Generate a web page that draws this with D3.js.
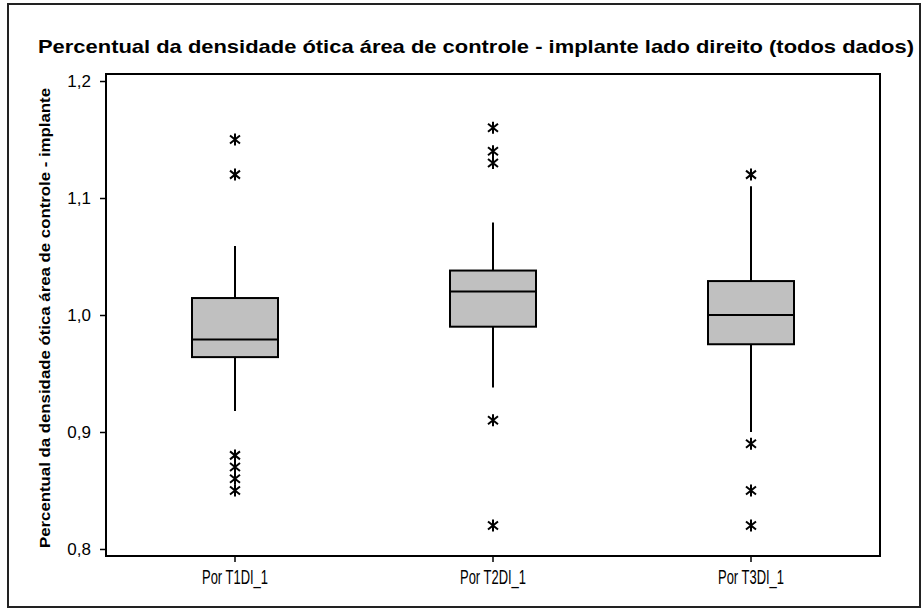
<!DOCTYPE html>
<html>
<head>
<meta charset="utf-8">
<script src="https://cdn.jsdelivr.net/npm/d3@7"></script>
<style>
  html, body { margin: 0; padding: 0; background: #fff; }
  svg { display: block; }
</style>
</head>
<body>
<svg id="chart" width="924" height="610"></svg>
<script>
// Groups on the x axis
const categories = ["Por T1DI_1", "Por T2DI_1", "Por T3DI_1"];
// Box summaries per group: lower whisker, Q1, median, Q3, upper whisker
const whiskerLow = [0.918, 0.938, 0.900];
const q1 = [0.964, 0.990, 0.975];
const median = [0.979, 1.020, 1.000];
const q3 = [1.0145, 1.038, 1.029];
const whiskerHigh = [1.059, 1.079, 1.110];
// Outlying observations per group
const outliers = [
  [1.15, 1.12, 0.88, 0.87, 0.86, 0.85],
  [1.16, 1.14, 1.13, 0.91, 0.82],
  [1.12, 0.89, 0.85, 0.82]
];
// Y axis tick values and labels
const yTicks = [0.8, 0.9, 1.0, 1.1, 1.2];
const yTickLabels = ["0,8", "0,9", "1,0", "1,1", "1,2"];

const titleText = "Percentual da densidade ótica área de controle - implante lado direito (todos dados)";
const yLabelText = "Percentual da densidade ótica área de controle - implante";

const svg = d3.select("#chart");
const plot = { left: 106, right: 880, top: 74, bottom: 556 };
const sans = "'Liberation Sans', Arial, sans-serif";

// Outer frame
svg.append("rect")
  .attr("x", 8).attr("y", 4)
  .attr("width", 912).attr("height", 603)
  .attr("fill", "#fff")
  .attr("stroke", "#222").attr("stroke-width", 2);

const x = d3.scaleBand()
  .domain(categories)
  .range([plot.left, plot.right])
  .padding(0);

const y = d3.scaleLinear()
  .domain([0.794, 1.206])
  .range([plot.bottom, plot.top]);

// Title
svg.append("text")
  .attr("x", 38).attr("y", 53)
  .attr("textLength", 876)
  .attr("lengthAdjust", "spacingAndGlyphs")
  .style("font-family", sans)
  .style("font-weight", "bold")
  .style("font-size", "19px")
  .attr("fill", "#000")
  .text(titleText);

// Y axis title
svg.append("text")
  .attr("transform", `translate(50, ${(plot.top + plot.bottom) / 2 + 3}) rotate(-90)`)
  .attr("text-anchor", "middle")
  .attr("textLength", 460)
  .attr("lengthAdjust", "spacingAndGlyphs")
  .style("font-family", sans)
  .style("font-weight", "bold")
  .style("font-size", "15px")
  .attr("fill", "#000")
  .text(yLabelText);

// Plot frame
svg.append("rect")
  .attr("x", plot.left).attr("y", plot.top)
  .attr("width", plot.right - plot.left)
  .attr("height", plot.bottom - plot.top)
  .attr("fill", "none")
  .attr("stroke", "#000").attr("stroke-width", 2);

// Y axis
const yAxis = d3.axisLeft(y)
  .tickValues(yTicks)
  .tickFormat((d, i) => yTickLabels[i])
  .tickSize(6)
  .tickPadding(9);
const gy = svg.append("g")
  .attr("transform", `translate(${plot.left},0)`)
  .call(yAxis);
gy.select(".domain").remove();
gy.selectAll(".tick line").attr("stroke", "#000").attr("stroke-width", 1.5);
gy.selectAll(".tick text")
  .style("font-family", sans)
  .style("font-size", "17px")
  .attr("fill", "#000");

// X axis
const xAxis = d3.axisBottom(x).tickSize(6).tickPadding(7);
const gx = svg.append("g")
  .attr("transform", `translate(0,${plot.bottom})`)
  .call(xAxis);
gx.select(".domain").remove();
gx.selectAll(".tick line").attr("stroke", "#000").attr("stroke-width", 1.5);
gx.selectAll(".tick text")
  .attr("textLength", 66)
  .attr("lengthAdjust", "spacingAndGlyphs")
  .style("font-family", sans)
  .style("font-size", "21px")
  .attr("fill", "#000");

// Boxes
const boxW = x.bandwidth() / 3;
const groups = svg.append("g").selectAll("g")
  .data(categories.map((c, i) => ({
    c, lo: whiskerLow[i], q1: q1[i], med: median[i], q3: q3[i], hi: whiskerHigh[i], out: outliers[i]
  })))
  .join("g")
  .attr("transform", d => `translate(${x(d.c) + x.bandwidth() / 2},0)`);

// Whiskers
groups.append("line")
  .attr("x1", 0).attr("x2", 0)
  .attr("y1", d => y(d.hi)).attr("y2", d => y(d.q3))
  .attr("stroke", "#000").attr("stroke-width", 2);
groups.append("line")
  .attr("x1", 0).attr("x2", 0)
  .attr("y1", d => y(d.q1)).attr("y2", d => y(d.lo))
  .attr("stroke", "#000").attr("stroke-width", 2);

// Interquartile box
groups.append("rect")
  .attr("x", -boxW / 2)
  .attr("width", boxW)
  .attr("y", d => y(d.q3))
  .attr("height", d => y(d.q1) - y(d.q3))
  .attr("fill", "#c0c0c0")
  .attr("stroke", "#000").attr("stroke-width", 2);

// Median
groups.append("line")
  .attr("x1", -boxW / 2).attr("x2", boxW / 2)
  .attr("y1", d => y(d.med)).attr("y2", d => y(d.med))
  .attr("stroke", "#000").attr("stroke-width", 2);

// Outlier asterisks
const star = "M0,-6L0,6M-5,-4L5,4M-5,4L5,-4";
groups.selectAll("path.out")
  .data(d => d.out)
  .join("path")
  .attr("class", "out")
  .attr("transform", v => `translate(0,${y(v)})`)
  .attr("d", star)
  .attr("fill", "none")
  .attr("stroke", "#000").attr("stroke-width", 2);
</script>
</body>
</html>
